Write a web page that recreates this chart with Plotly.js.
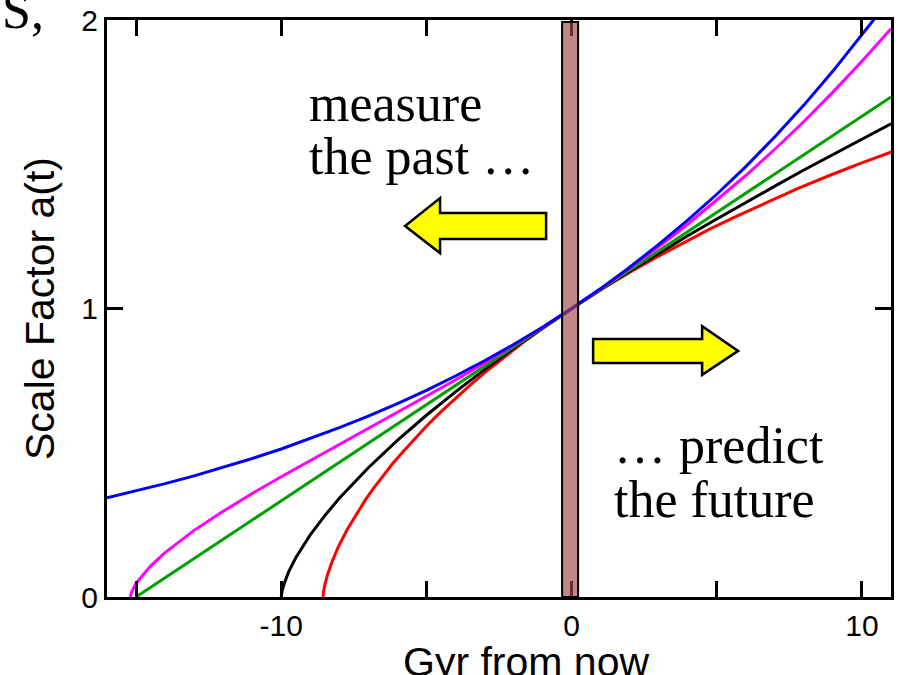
<!DOCTYPE html>
<html>
<head>
<meta charset="utf-8">
<script src="https://cdn.plot.ly/plotly-3.0.1.min.js"></script>
<style>html,body{margin:0;padding:0;background:#fff;}#chart{width:898px;height:675px;}</style>
</head>
<body>
<div id="chart"></div>
<script>
// ---- data (Gyr from now, scale factor a(t)) ----
const tBlue = [-16,-15,-14,-13,-12,-11,-10,-9,-8,-7,-6,-5,-4,-3,-2,-1,0,1,2,3,4,5,6,7,8,9,10,10.5];
const aBlue = [0.344,0.368,0.393,0.420,0.449,0.480,0.513,0.549,0.587,0.627,0.670,0.716,0.766,0.819,0.875,0.935,1.000,1.069,1.143,1.222,1.306,1.396,1.492,1.595,1.705,1.823,1.948,2.013];

const tMagenta = [-15.2,-15.15,-15,-14.5,-14,-13,-12,-11,-10,-9,-8,-7,-6,-5,-4,-3,-2,-1,0,1,2,3,4,5,6,7,8,9,10,11];
const aMagenta = [0,0.018,0.047,0.107,0.154,0.231,0.297,0.359,0.417,0.473,0.528,0.583,0.639,0.695,0.752,0.811,0.872,0.935,1.000,1.068,1.140,1.214,1.292,1.375,1.461,1.552,1.648,1.750,1.857,1.970];

const tGreen = [-15,-10,-5,0,5,10,11];
const aGreen = [0,0.333,0.667,1.000,1.333,1.667,1.733];

const tBlack = [-10,-9.97,-9.9,-9.75,-9.5,-9,-8.5,-8,-7,-6,-5,-4,-3,-2,-1,0,1,2,3,4,5,6,7,8,9,10,11];
const aBlack = [0,0.021,0.046,0.086,0.136,0.215,0.282,0.342,0.448,0.543,0.630,0.711,0.788,0.862,0.932,1.000,1.066,1.129,1.191,1.252,1.310,1.368,1.424,1.480,1.534,1.587,1.640];

const tRed = [-8.560,-8.557,-8.540,-8.493,-8.401,-8.251,-8.030,-7.723,-7.320,-7.079,-6.810,-6.511,-6.182,-5.821,-5.428,-5.001,-4.541,-4.045,-3.513,-2.946,-2.342,-1.701,-1.022,0,0.446,1.237,2.065,2.930,3.832,4.769,5.746,6.756,7.801,8.880,9.992,11.137];
const aRed = [0,0.005,0.020,0.045,0.079,0.122,0.175,0.235,0.303,0.340,0.378,0.418,0.460,0.502,0.546,0.592,0.638,0.685,0.733,0.781,0.830,0.880,0.929,1.000,1.029,1.079,1.129,1.178,1.227,1.276,1.323,1.370,1.416,1.461,1.505,1.547];

const xTickVals = [-15,-10,-5,0,5,10];
const xTickText = ['','-10','','0','','10'];
const yTickVals = [0,1,2];
const yTickText = ['0','1','2'];

// ---- traces ----
function line(x, y, color){
  return {x:x, y:y, type:'scatter', mode:'lines', line:{color:color, width:3}, hoverinfo:'skip', showlegend:false};
}
const traces = [
  line(tRed, aRed, '#ff0000'),
  line(tBlack, aBlack, '#000000'),
  line(tGreen, aGreen, '#00a000'),
  line(tMagenta, aMagenta, '#ff00ff'),
  line(tBlue, aBlue, '#0000ff')
];

const sans = 'Liberation Sans, Arial, Helvetica, sans-serif';
const serif = 'Liberation Serif, Times New Roman, serif';

const layout = {
  width: 898, height: 675,
  margin: {l:107, r:7, t:20, b:78},
  paper_bgcolor:'#ffffff', plot_bgcolor:'#ffffff',
  showlegend:false,
  xaxis: {
    range:[-16,11], tickvals:xTickVals, ticktext:xTickText,
    ticks:'inside', ticklen:16, tickwidth:3, tickcolor:'#000',
    showline:true, linewidth:3, linecolor:'#000', mirror:'ticks',
    showgrid:false, zeroline:false,
    tickfont:{family:sans, size:30, color:'#000'}
  },
  yaxis: {
    range:[0,2], tickvals:yTickVals, ticktext:yTickText,
    ticks:'inside', ticklen:16, tickwidth:3, tickcolor:'#000',
    showline:true, linewidth:3, linecolor:'#000', mirror:'ticks',
    showgrid:false, zeroline:false,
    tickfont:{family:sans, size:30, color:'#000'},
    title:{text:'Scale Factor a(t)', font:{family:sans, size:41, color:'#000'}, standoff:14}
  },
  shapes: [
    {type:'rect', xref:'x', yref:'y', x0:-0.327, x1:0.224, y0:0, y1:1.993, layer:'above',
     fillcolor:'rgba(160,70,70,0.65)', line:{color:'#000', width:2}},
    {type:'path', xref:'x', yref:'y', layer:'above',
     path:'M -5.735,1.286 L -4.530,1.383 L -4.530,1.331 L -0.878,1.331 L -0.878,1.241 L -4.530,1.241 L -4.530,1.192 Z',
     fillcolor:'#ffff00', line:{color:'#000', width:2.5}},
    {type:'path', xref:'x', yref:'y', layer:'above',
     path:'M 0.741,0.894 L 4.495,0.894 L 4.495,0.939 L 5.735,0.853 L 4.495,0.770 L 4.495,0.811 L 0.741,0.811 Z',
     fillcolor:'#ffff00', line:{color:'#000', width:2.5}}
  ],
  annotations: [
    {text:'Gyr from now', xref:'paper', yref:'paper', x:0.535, y:-0.112, xanchor:'center', yanchor:'middle',
     showarrow:false, font:{family:sans, size:41, color:'#000'}},
    {text:'measure', xref:'paper', yref:'paper', x:0.2551, y:0.856, xanchor:'left', yanchor:'middle',
     showarrow:false, font:{family:serif, size:52, color:'#000'}},
    {text:'the past \u2026', xref:'paper', yref:'paper', x:0.2551, y:0.764, xanchor:'left', yanchor:'middle',
     showarrow:false, font:{family:serif, size:52, color:'#000'}},
    {text:'\u2026 predict', xref:'paper', yref:'paper', x:0.644, y:0.2625, xanchor:'left', yanchor:'middle',
     showarrow:false, font:{family:serif, size:52, color:'#000'}},
    {text:'the future', xref:'paper', yref:'paper', x:0.644, y:0.169, xanchor:'left', yanchor:'middle',
     showarrow:false, font:{family:serif, size:52, color:'#000'}},
    {text:'S,', xref:'paper', yref:'paper', x:-0.1365, y:1.016, xanchor:'left', yanchor:'middle',
     showarrow:false, font:{family:serif, size:52, color:'#000'}}
  ]
};

Plotly.newPlot('chart', traces, layout, {displayModeBar:false, staticPlot:true});
</script>
</body>
</html>
